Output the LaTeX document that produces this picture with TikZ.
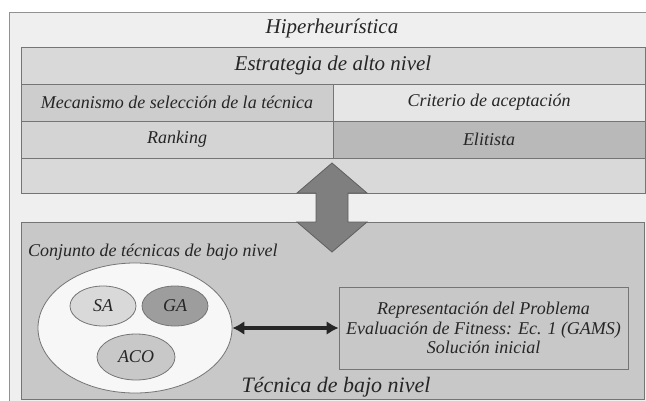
\documentclass[tikz,border=0pt]{standalone}
\usepackage{fontspec}
\setmainfont{Liberation Serif}
\usetikzlibrary{shapes.geometric,arrows.meta}

\definecolor{frameback}{HTML}{EFEFEF}
\definecolor{lineg}{HTML}{757575}
\definecolor{txt}{HTML}{262626}
\definecolor{rowg}{HTML}{D9D9D9}
\definecolor{mecag}{HTML}{CDCDCD}
\definecolor{critg}{HTML}{E6E6E6}
\definecolor{rankg}{HTML}{D4D4D4}
\definecolor{elitg}{HTML}{B9B9B9}
\definecolor{lowg}{HTML}{C8C8C8}
\definecolor{arrowg}{HTML}{7F7F7F}

\tikzset{
  cell/.style={draw=lineg, line width=0.9pt, inner sep=0pt, text=txt,
    font=\itshape\fontsize{18}{20}\selectfont},
  half/.style={cell, minimum width=312pt, minimum height=37pt},
  blob/.style={ellipse, draw=lineg, line width=0.8pt, inner sep=0pt, text=txt,
    font=\itshape\fontsize{18}{20}\selectfont},
  label/.style={text=txt, inner sep=0pt}
}

\begin{document}
\begin{tikzpicture}[x=1pt,y=-1pt]
	\useasboundingbox (0,0) rectangle (646,400);
	% draw the frame
	\filldraw[fill=frameback, draw=lineg!80, line width=1pt] (9,12) rectangle (670,430);
	\node[label, font=\itshape\fontsize{21}{23}\selectfont] (hiper) at (332,28) {Hiperheurística};

	% the high level boxes
	\node[cell, fill=rowg, minimum width=624pt, minimum height=37pt, font=\itshape\fontsize{21}{23}\selectfont] (estr) at (333,65.5) {Estrategia de alto nivel};
	\node[half, fill=mecag] (meca) at (177,102.5) {Mecanismo de selección de la técnica};
	\node[half, fill=critg] (crit) at (489,102.5) {Criterio de aceptación};
	\node[half, fill=rankg] (rank) at (177,139.5) {Ranking};
	\node[half, fill=elitg] (elit) at (489,139.5) {Elitista};
	\node[cell, fill=rowg, minimum width=624pt, minimum height=35pt] (free) at (333,175.5) {};

	% the low level box
	\node[cell, fill=lowg, minimum width=623pt, minimum height=177pt] (low) at (332.5,310.5) {};
	\node[label, anchor=west, font=\itshape\fontsize{18}{20}\selectfont] (conjt) at (28,252) {Conjunto de técnicas de bajo nivel};
	\node[label, font=\itshape\fontsize{22}{24}\selectfont] (tecn) at (336,387) {Técnica de bajo nivel};

	% the big arrow
	\filldraw[fill=arrowg, draw=lineg!80!black, line width=0.8pt]
		(332,163) -- (367,193) -- (348,193) -- (348,222) -- (367,222) -- (332,252)
		-- (297,222) -- (316,222) -- (316,193) -- (297,193) -- cycle;

	% the set of techniques
	\node[blob, fill=frameback!50!white, minimum width=194pt, minimum height=130pt] (conj) at (135,328) {};
	\node[blob, fill=rowg, minimum width=66pt, minimum height=40pt] (sa) at (103,306) {SA};
	\node[blob, fill=elitg!85!black, minimum width=66pt, minimum height=40pt] (ga) at (175,306) {GA};
	\node[blob, fill=lowg, minimum width=78pt, minimum height=46pt] (aco) at (136,357) {ACO};

	\node[cell, fill=lowg, minimum width=289pt, minimum height=82pt, align=center,
		font=\itshape\fontsize{18}{19.5}\selectfont] (rep) at (483.5,328)
		{Representación del Problema\\Evaluación de Fitness: Ec. 1 (GAMS)\\Solución inicial};

	% draw the arrow
	\draw[{Latex[length=12pt,width=14pt]}-{Latex[length=12pt,width=14pt]}, line width=4pt, draw=txt] (conj) -- (rep);

\end{tikzpicture}
\end{document}
